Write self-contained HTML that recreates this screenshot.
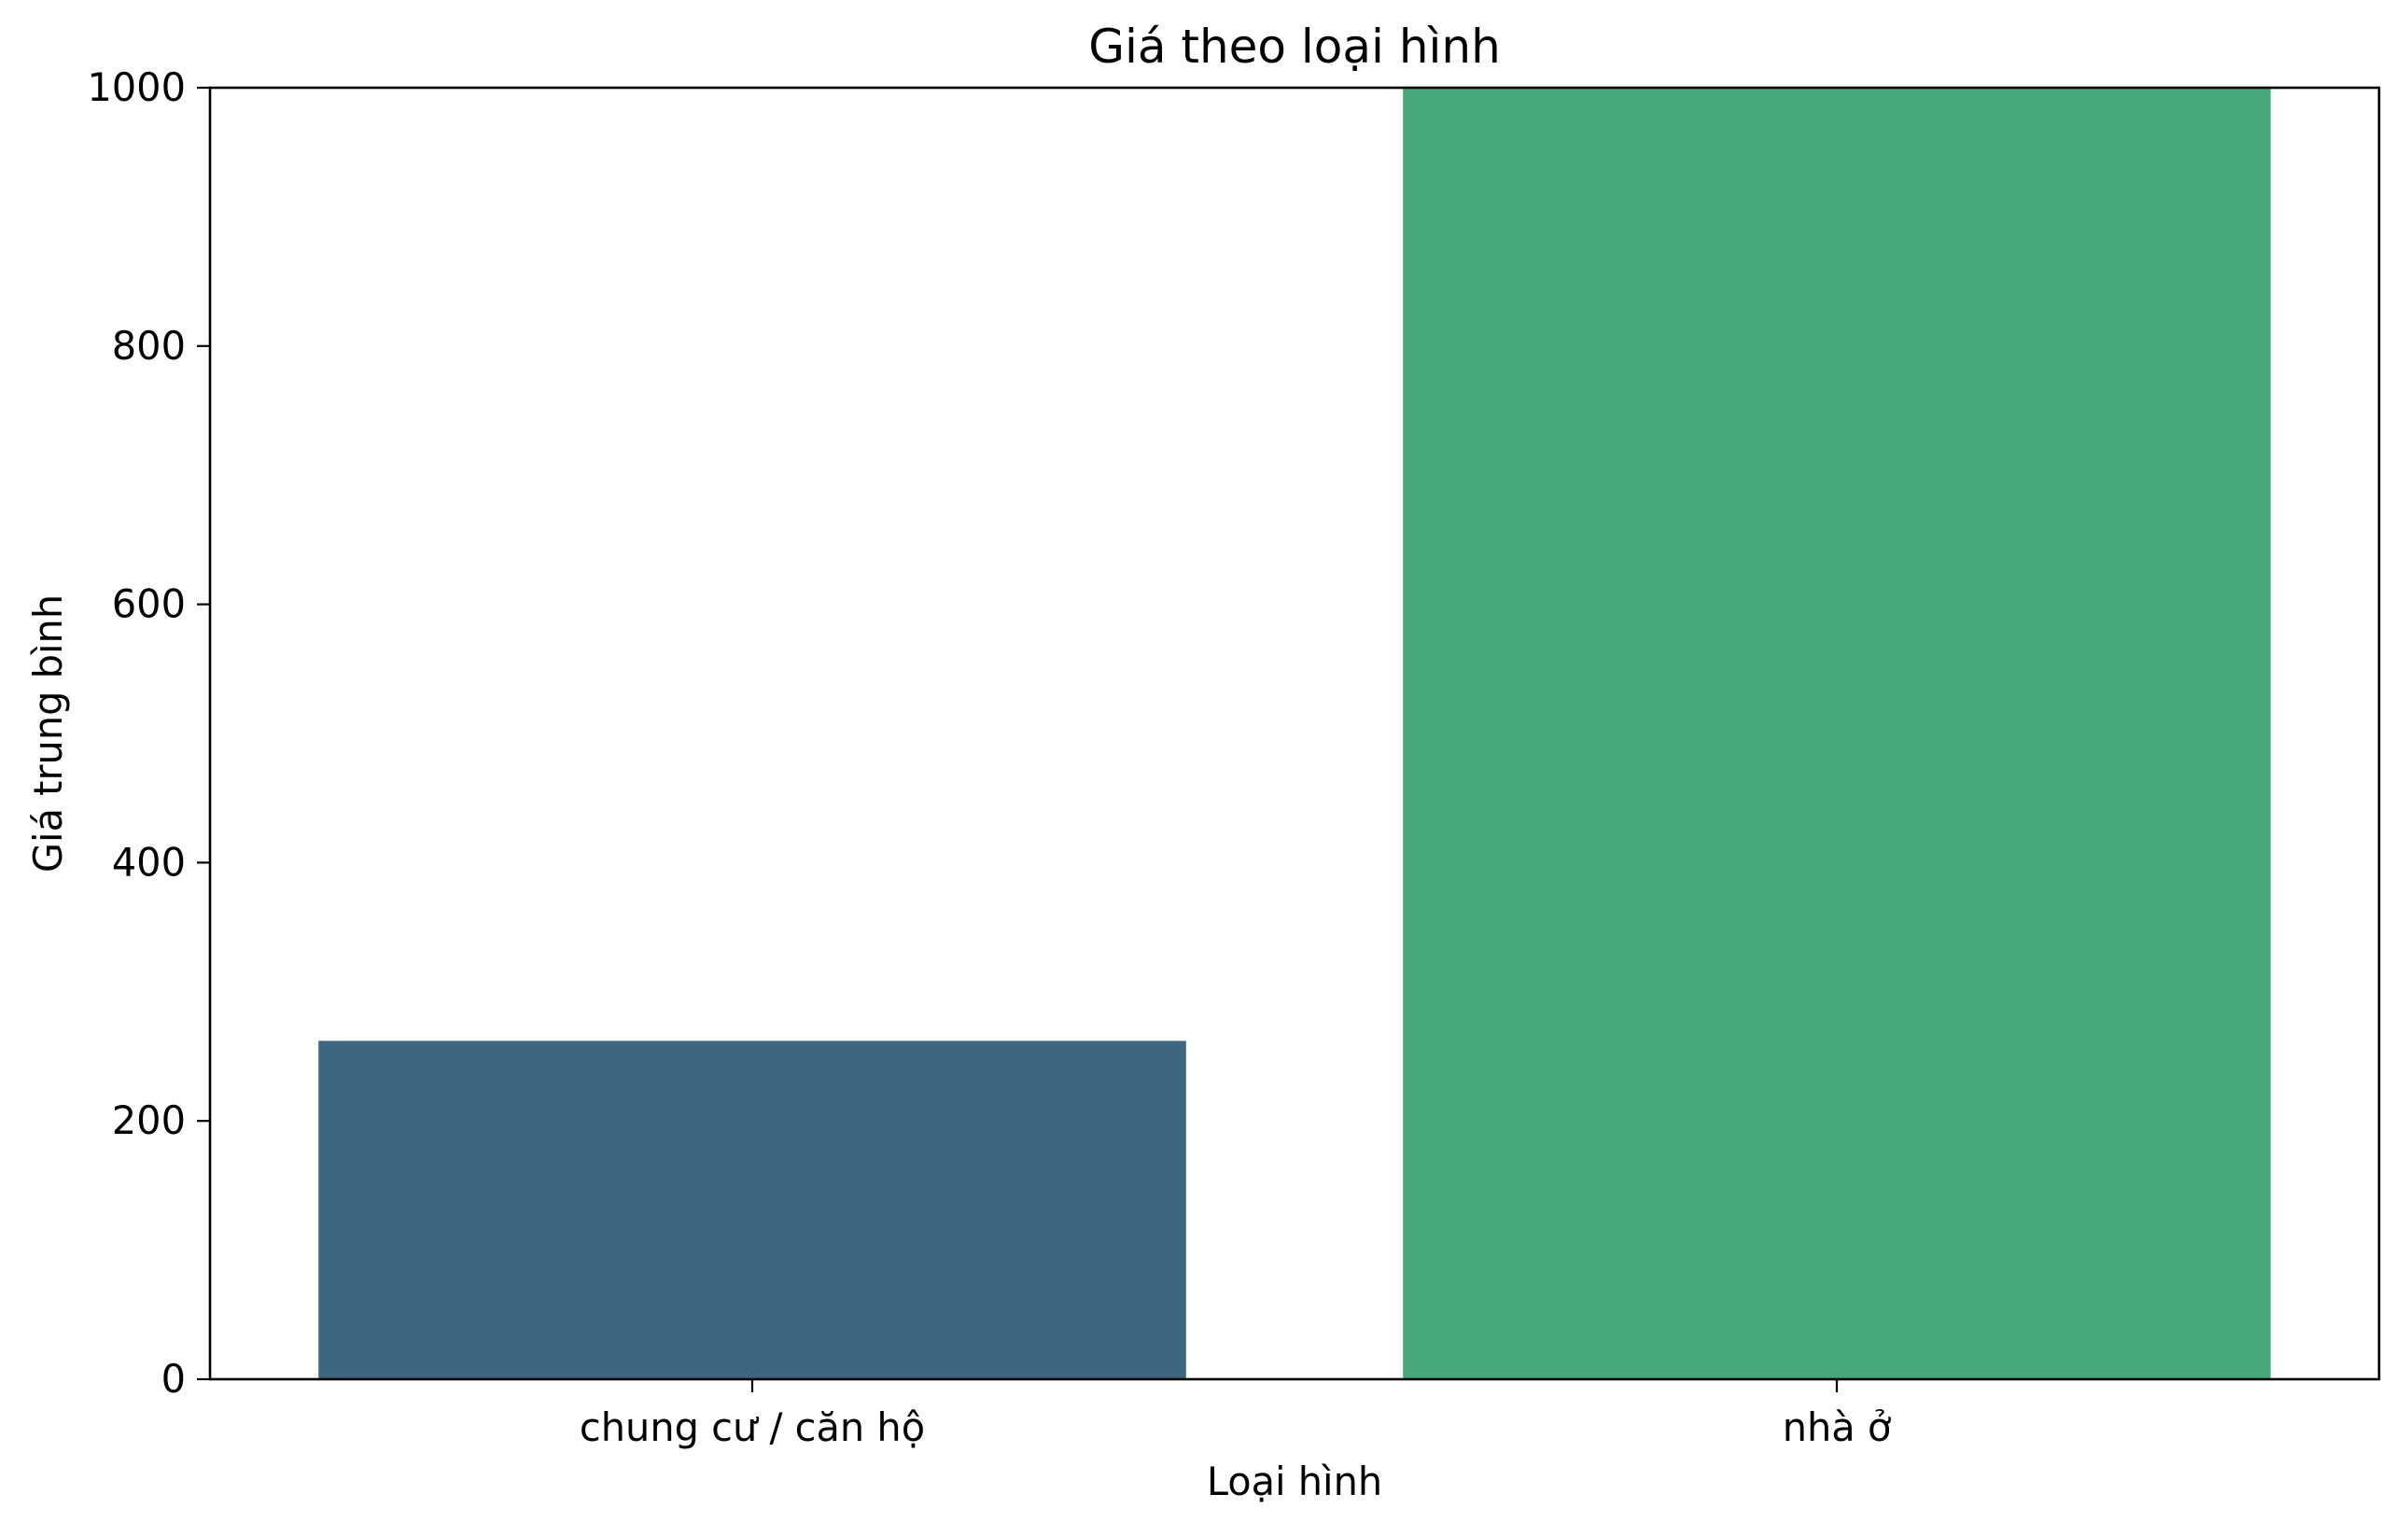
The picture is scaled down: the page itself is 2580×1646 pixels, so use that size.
<!DOCTYPE html>
<html><head><meta charset="utf-8"><style>
html,body{margin:0;padding:0;background:#fff}
svg text{font-family:"DejaVu Sans","Liberation Sans",sans-serif;fill:#000}
</style></head><body>
<svg id="chart" width="2580" height="1641" xmlns="http://www.w3.org/2000/svg">
<rect width="2580" height="1641" fill="#fff"/>
<g id="plot"></g>
</svg>
<script>
const categories = ["chung cư / căn hộ", "nhà ở"];
const values = [262, 1000];
const colors = ["#3e6680", "#46a87a"];
const yTicks = [0, 200, 400, 600, 800, 1000];

const L=225, R=2549, T=94, B=1478;
const yMin=0, yMax=1000;
const y = v => B - (v - yMin) / (yMax - yMin) * (B - T);
const x = i => L + (i + 0.5) / categories.length * (R - L);
const bw = 0.8 / categories.length * (R - L);
const NS="http://www.w3.org/2000/svg";
const g=document.getElementById('plot');
function mk(tag, attrs, text){const e=document.createElementNS(NS,tag);for(const k in attrs)e.setAttribute(k,attrs[k]);if(text!==undefined)e.textContent=text;g.appendChild(e);return e;}

categories.forEach((c,i)=>{
  const top=y(Math.min(values[i],yMax));
  const r=mk('rect',{x:x(i)-bw/2,y:top,width:bw,height:B-top,fill:colors[i]});
  
  
  const t=mk('line',{x1:x(i),x2:x(i),y1:B,y2:B+14,stroke:'#000','stroke-width':2.2});
  
  
  const lb=mk('text',{x:x(i),y:B+66,'font-size':41.5,'text-anchor':'middle'},c);
  
  
});
yTicks.forEach(v=>{
  const t=mk('line',{x1:L-14,x2:L,y1:y(v),y2:y(v),stroke:'#000','stroke-width':2.2});
  
  
  const lb=mk('text',{x:L-26,y:y(v)+14,'font-size':41.5,'text-anchor':'end'},String(v));
  
  
});
const frame=mk('rect',{x:L,y:T,width:R-L,height:B-T,fill:'none',stroke:'#000','stroke-width':2.6});


const title=mk('text',{x:(L+R)/2,y:67,'font-size':50,'text-anchor':'middle'},"Giá theo loại hình");


const xl=mk('text',{x:(L+R)/2,y:1602,'font-size':41.5,'text-anchor':'middle'},"Loại hình");


const yl=mk('text',{x:0,y:0,'font-size':41.5,'text-anchor':'middle',transform:'translate(66,786) rotate(-90)'},"Giá trung bình");


</script>
</body></html>
